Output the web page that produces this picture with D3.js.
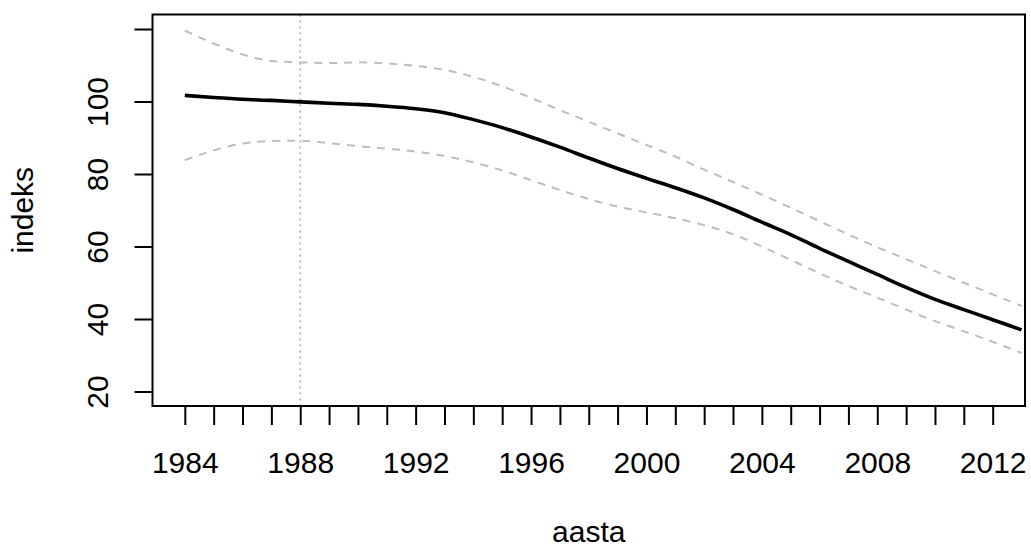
<!DOCTYPE html>
<html>
<head>
<meta charset="utf-8">
<script src="https://cdn.jsdelivr.net/npm/d3@7"></script>
<style>
  body { margin: 0; background: #fff; }
  svg { display: block; font-family: "Liberation Sans", Arial, sans-serif; }
</style>
</head>
<body>
<svg id="chart" width="1031" height="549"></svg>
<script>
// aasta -> indeks, smoothed trend with upper/lower band
var years = [1984, 1985, 1986, 1987, 1988, 1989, 1990, 1991, 1992, 1993,
             1994, 1995, 1996, 1997, 1998, 1999, 2000, 2001, 2002, 2003,
             2004, 2005, 2006, 2007, 2008, 2009, 2010, 2011, 2012, 2013];
var trend = [101.7, 101.1, 100.6, 100.3, 99.9, 99.5, 99.2, 98.7, 98.0, 96.9,
             95.0, 92.8, 90.2, 87.4, 84.4, 81.5, 78.8, 76.2, 73.4, 70.2,
             66.7, 63.3, 59.5, 55.9, 52.3, 48.7, 45.4, 42.6, 39.8, 37.0];
var upper = [119.6, 116.0, 113.0, 111.2, 110.8, 110.6, 110.8, 110.5, 109.8, 108.7,
             106.8, 104.2, 101.0, 97.6, 94.4, 91.2, 88.0, 84.8, 81.2, 77.8,
             74.3, 70.7, 67.0, 63.3, 59.8, 56.5, 53.2, 50.0, 46.8, 43.6];
var lower = [83.8, 86.5, 88.4, 89.1, 89.2, 88.5, 87.7, 87.0, 86.2, 85.0,
             83.2, 81.0, 78.3, 75.6, 73.1, 71.0, 69.4, 67.8, 65.9, 63.4,
             60.0, 56.3, 52.6, 49.1, 45.9, 42.6, 39.4, 36.6, 33.7, 30.6];
var yTicks = [20, 40, 60, 80, 100, 120];
var yLabels = [20, 40, 60, 80, 100];
var xLabels = [1984, 1988, 1992, 1996, 2000, 2004, 2008, 2012];
var refYear = 1988;

var svg = d3.select("#chart");
var box = {left: 152.5, right: 1025, top: 14.5, bottom: 406};

// R style 4% padding on the axis range
var x = d3.scaleLinear().domain([1984 - 0.04 * 28, 2012 + 0.04 * 28]).range([box.left, box.right]);
var y = d3.scaleLinear().domain([16, 124]).range([box.bottom, box.top]);

svg.append("defs").append("clipPath").attr("id", "plotclip")
  .append("rect")
    .attr("x", box.left).attr("y", box.top)
    .attr("width", box.right - box.left).attr("height", box.bottom - box.top);

var plot = svg.append("g").attr("clip-path", "url(#plotclip)");

// reference year
plot.append("line")
    .attr("x1", x(refYear)).attr("x2", x(refYear))
    .attr("y1", box.top).attr("y2", box.bottom)
    .attr("stroke", "#b4b4b4")
    .attr("stroke-width", 2)
    .attr("stroke-dasharray", "2,4");

var line = function(vals) {
  return d3.line()
    .x(function(d, i) { return x(years[i]); })
    .y(function(d) { return y(d); })
    .curve(d3.curveMonotoneX)(vals);
};

[upper, lower].forEach(function(band) {
  plot.append("path")
      .attr("d", line(band))
      .attr("fill", "none")
      .attr("stroke", "#bdbdbd")
      .attr("stroke-width", 2)
      .attr("stroke-dasharray", "8,7");
});

plot.append("path")
    .attr("d", line(trend))
    .attr("fill", "none")
    .attr("stroke", "#000")
    .attr("stroke-width", 3.6)
    .attr("stroke-linejoin", "round");

// axes
var xAxis = svg.append("g")
    .attr("transform", "translate(0," + box.bottom + ")")
    .call(d3.axisBottom(x)
      .tickValues(years.slice(0, years.length - 1))
      .tickSize(19)
      .tickSizeOuter(0)
      .tickFormat(function(d) { return xLabels.indexOf(d) >= 0 ? d : ""; }));
xAxis.select(".domain").remove();
xAxis.selectAll(".tick line").attr("stroke", "#000").attr("stroke-width", 2);
xAxis.selectAll(".tick text")
    .attr("y", 67)
    .attr("dy", 0)
    .attr("fill", "#000")
    .style("font-size", "30px");

var yAxis = svg.append("g")
    .attr("transform", "translate(" + box.left + ",0)")
    .call(d3.axisLeft(y)
      .tickValues(yTicks)
      .tickSize(18)
      .tickFormat(function(d) { return yLabels.indexOf(d) >= 0 ? d : ""; }));
yAxis.select(".domain").remove();
yAxis.selectAll(".tick line").attr("stroke", "#000").attr("stroke-width", 2);
yAxis.selectAll(".tick text")
    .attr("x", 0).attr("dy", 0)
    .attr("transform", "translate(-45,0) rotate(-90)")
    .attr("text-anchor", "middle")
    .attr("fill", "#000")
    .style("font-size", "30px");

// frame
svg.append("rect")
    .attr("x", box.left).attr("y", box.top)
    .attr("width", box.right - box.left).attr("height", box.bottom - box.top)
    .attr("fill", "none")
    .attr("stroke", "#000")
    .attr("stroke-width", 2);

svg.append("text")
    .attr("x", (box.left + box.right) / 2)
    .attr("y", 542)
    .attr("text-anchor", "middle")
    .style("font-size", "30px")
    .text("aasta");

svg.append("text")
    .attr("transform", "translate(33," + (box.top + box.bottom) / 2 + ") rotate(-90)")
    .attr("text-anchor", "middle")
    .style("font-size", "30px")
    .text("indeks");
</script>
</body>
</html>
